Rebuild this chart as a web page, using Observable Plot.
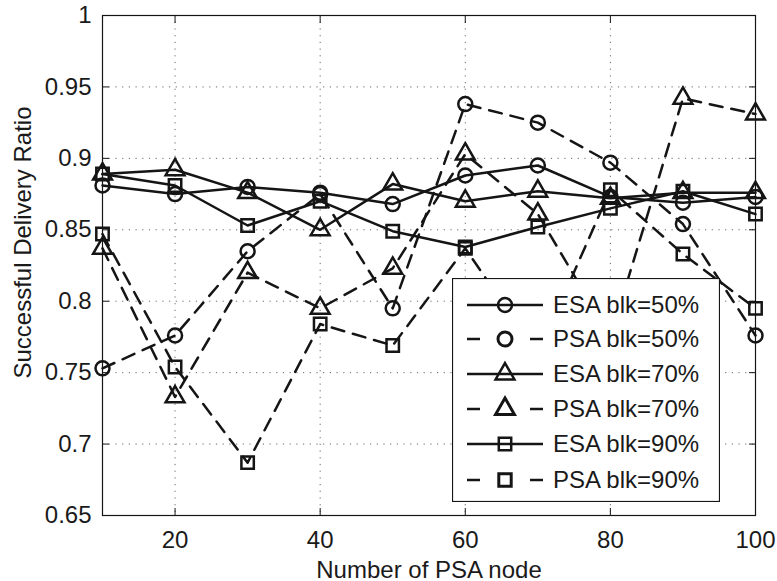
<!DOCTYPE html>
<html><head><meta charset="utf-8">
<script src="https://cdn.jsdelivr.net/npm/d3@7"></script>
<script src="https://cdn.jsdelivr.net/npm/@observablehq/plot@0.6"></script>
<style>
body{margin:0;background:#fff;}
#wrap{position:relative;width:777px;height:581px;font-family:"Liberation Sans",Arial,sans-serif;}
#legend{position:absolute;left:452px;top:278px;}
</style></head><body><div id="wrap"></div>
<script>
const xValues = [10, 20, 30, 40, 50, 60, 70, 80, 90, 100];
const esa50 = [0.881, 0.875, 0.880, 0.876, 0.868, 0.888, 0.895, 0.873, 0.869, 0.873];
const psa50 = [0.753, 0.776, 0.835, 0.875, 0.795, 0.938, 0.925, 0.897, 0.854, 0.776];
const esa70 = [0.889, 0.892, 0.876, 0.850, 0.882, 0.870, 0.877, 0.872, 0.876, 0.876];
const psa70 = [0.837, 0.733, 0.820, 0.795, 0.823, 0.903, 0.861, 0.775, 0.942, 0.931];
const esa90 = [0.889, 0.881, 0.853, 0.870, 0.849, 0.838, 0.852, 0.865, 0.877, 0.861];
const psa90 = [0.847, 0.754, 0.687, 0.784, 0.769, 0.837, 0.763, 0.878, 0.833, 0.795];
const seriesNames = ["ESA blk=50%", "PSA blk=50%", "ESA blk=70%", "PSA blk=70%", "ESA blk=90%", "PSA blk=90%"];
const seriesValues = [esa50, psa50, esa70, psa70, esa90, psa90];
const seriesSymbols = ["circle", "circle", "triangle", "triangle", "square", "square"];
const seriesDashed = [false, true, false, true, false, true];
const xTicks = [20, 40, 60, 80, 100];
const yTicks = [0.65, 0.7, 0.75, 0.8, 0.85, 0.9, 0.95, 1];
const yTickLabels = ["0.65", "0.7", "0.75", "0.8", "0.85", "0.9", "0.95", "1"];
const xLabel = "Number of PSA node";
const yLabel = "Successful Delivery Ratio";

const data = seriesNames.flatMap((name, i) =>
  xValues.map((x, j) => ({series: name, x, y: seriesValues[i][j], symbol: seriesSymbols[i], dashed: seriesDashed[i]})));

const ink = "#151515";
const dash = "13,9";
const R = 7;

const marks = [
  Plot.gridX(xTicks, {stroke: "#444", strokeOpacity: 0.8, strokeDasharray: "1.2,5.5"}),
  Plot.gridY(yTicks, {stroke: "#444", strokeOpacity: 0.8, strokeDasharray: "1.2,5.5"}),
  Plot.line(data.filter(d => !d.dashed), {x: "x", y: "y", z: "series", stroke: ink, strokeWidth: 2.5}),
  Plot.line(data.filter(d => d.dashed), {x: "x", y: "y", z: "series", stroke: ink, strokeWidth: 2.5, strokeDasharray: dash}),
  ...["circle", "triangle", "square"].map(s =>
    Plot.dot(data.filter(d => d.symbol === s), {x: "x", y: "y", symbol: s, r: R, stroke: ink, strokeWidth: 2.5, fill: "none"})),
  Plot.frame({stroke: ink, strokeWidth: 1.2}),
  Plot.axisX({ticks: xTicks, anchor: "bottom", tickSize: 0, tickPadding: 15, label: null, fontSize: 24, fill: "#1a1a1a"}),
  Plot.axisX({ticks: xTicks, anchor: "bottom", tickSize: -7, tickFormat: () => "", label: null, stroke: ink}),
  Plot.axisX({ticks: xTicks, anchor: "top", tickSize: -7, tickFormat: () => "", label: null, stroke: ink}),
  Plot.axisY({ticks: yTicks, anchor: "left", tickSize: 0, tickPadding: 11, tickFormat: d => yTickLabels[yTicks.indexOf(d)], label: null, fontSize: 24, fill: "#1a1a1a"}),
  Plot.axisY({ticks: yTicks, anchor: "left", tickSize: -7, tickFormat: () => "", label: null, stroke: ink}),
  Plot.axisY({ticks: yTicks, anchor: "right", tickSize: -7, tickFormat: () => "", label: null, stroke: ink}),
  Plot.text([xLabel], {frameAnchor: "bottom", textAnchor: "middle", lineAnchor: "top", dy: 45, fontSize: 24, fill: "#1a1a1a"}),
  Plot.text([yLabel], {frameAnchor: "left", textAnchor: "middle", lineAnchor: "middle", rotate: -90, dx: -79, dy: -23, fontSize: 24, fill: "#1a1a1a"})
];

const chart = Plot.plot({
  width: 777, height: 581,
  marginLeft: 102, marginRight: 22, marginTop: 15, marginBottom: 66,
  style: {fontFamily: "'Liberation Sans', Arial, sans-serif", fontSize: "24px", background: "#fff", overflow: "visible"},
  x: {domain: [10, 100]},
  y: {domain: [0.65, 1]},
  marks
});
const wrap = document.getElementById("wrap");
wrap.appendChild(chart);

// legend (inside the axes, MATLAB style)
const lw = 268, lh = 224, rowY = [27, 61, 96, 131, 166, 202];
const leg = d3.create("svg").attr("id", "legend").attr("width", lw).attr("height", lh);
leg.append("rect").attr("x", 0.5).attr("y", 0.5).attr("width", lw - 1).attr("height", lh - 1)
  .attr("fill", "#fff").attr("stroke", ink).attr("stroke-width", 1.2);
const symMap = {circle: d3.symbolCircle, triangle: d3.symbolTriangle, square: d3.symbolSquare};
seriesNames.forEach((name, i) => {
  const g = leg.append("g").attr("transform", `translate(0,${rowY[i]})`);
  if (seriesDashed[i]) {
    g.append("line").attr("x1", 15).attr("x2", 28).attr("stroke", ink).attr("stroke-width", 2.5);
    g.append("line").attr("x1", 78).attr("x2", 91).attr("stroke", ink).attr("stroke-width", 2.5);
  } else {
    g.append("line").attr("x1", 15).attr("x2", 91).attr("stroke", ink).attr("stroke-width", 2.5);
  }
  g.append("path").attr("transform", "translate(53,0)")
    .attr("d", d3.symbol(symMap[seriesSymbols[i]], Math.PI * R * R)())
    .attr("fill", "none").attr("stroke", ink).attr("stroke-width", seriesDashed[i] ? 3 : 2.5);
  g.append("text").attr("x", 101).attr("dy", "0.35em").attr("font-size", 24)
    .attr("font-family", "'Liberation Sans', Arial, sans-serif").attr("fill", "#1a1a1a").text(name);
});
wrap.appendChild(leg.node());
</script></body></html>
